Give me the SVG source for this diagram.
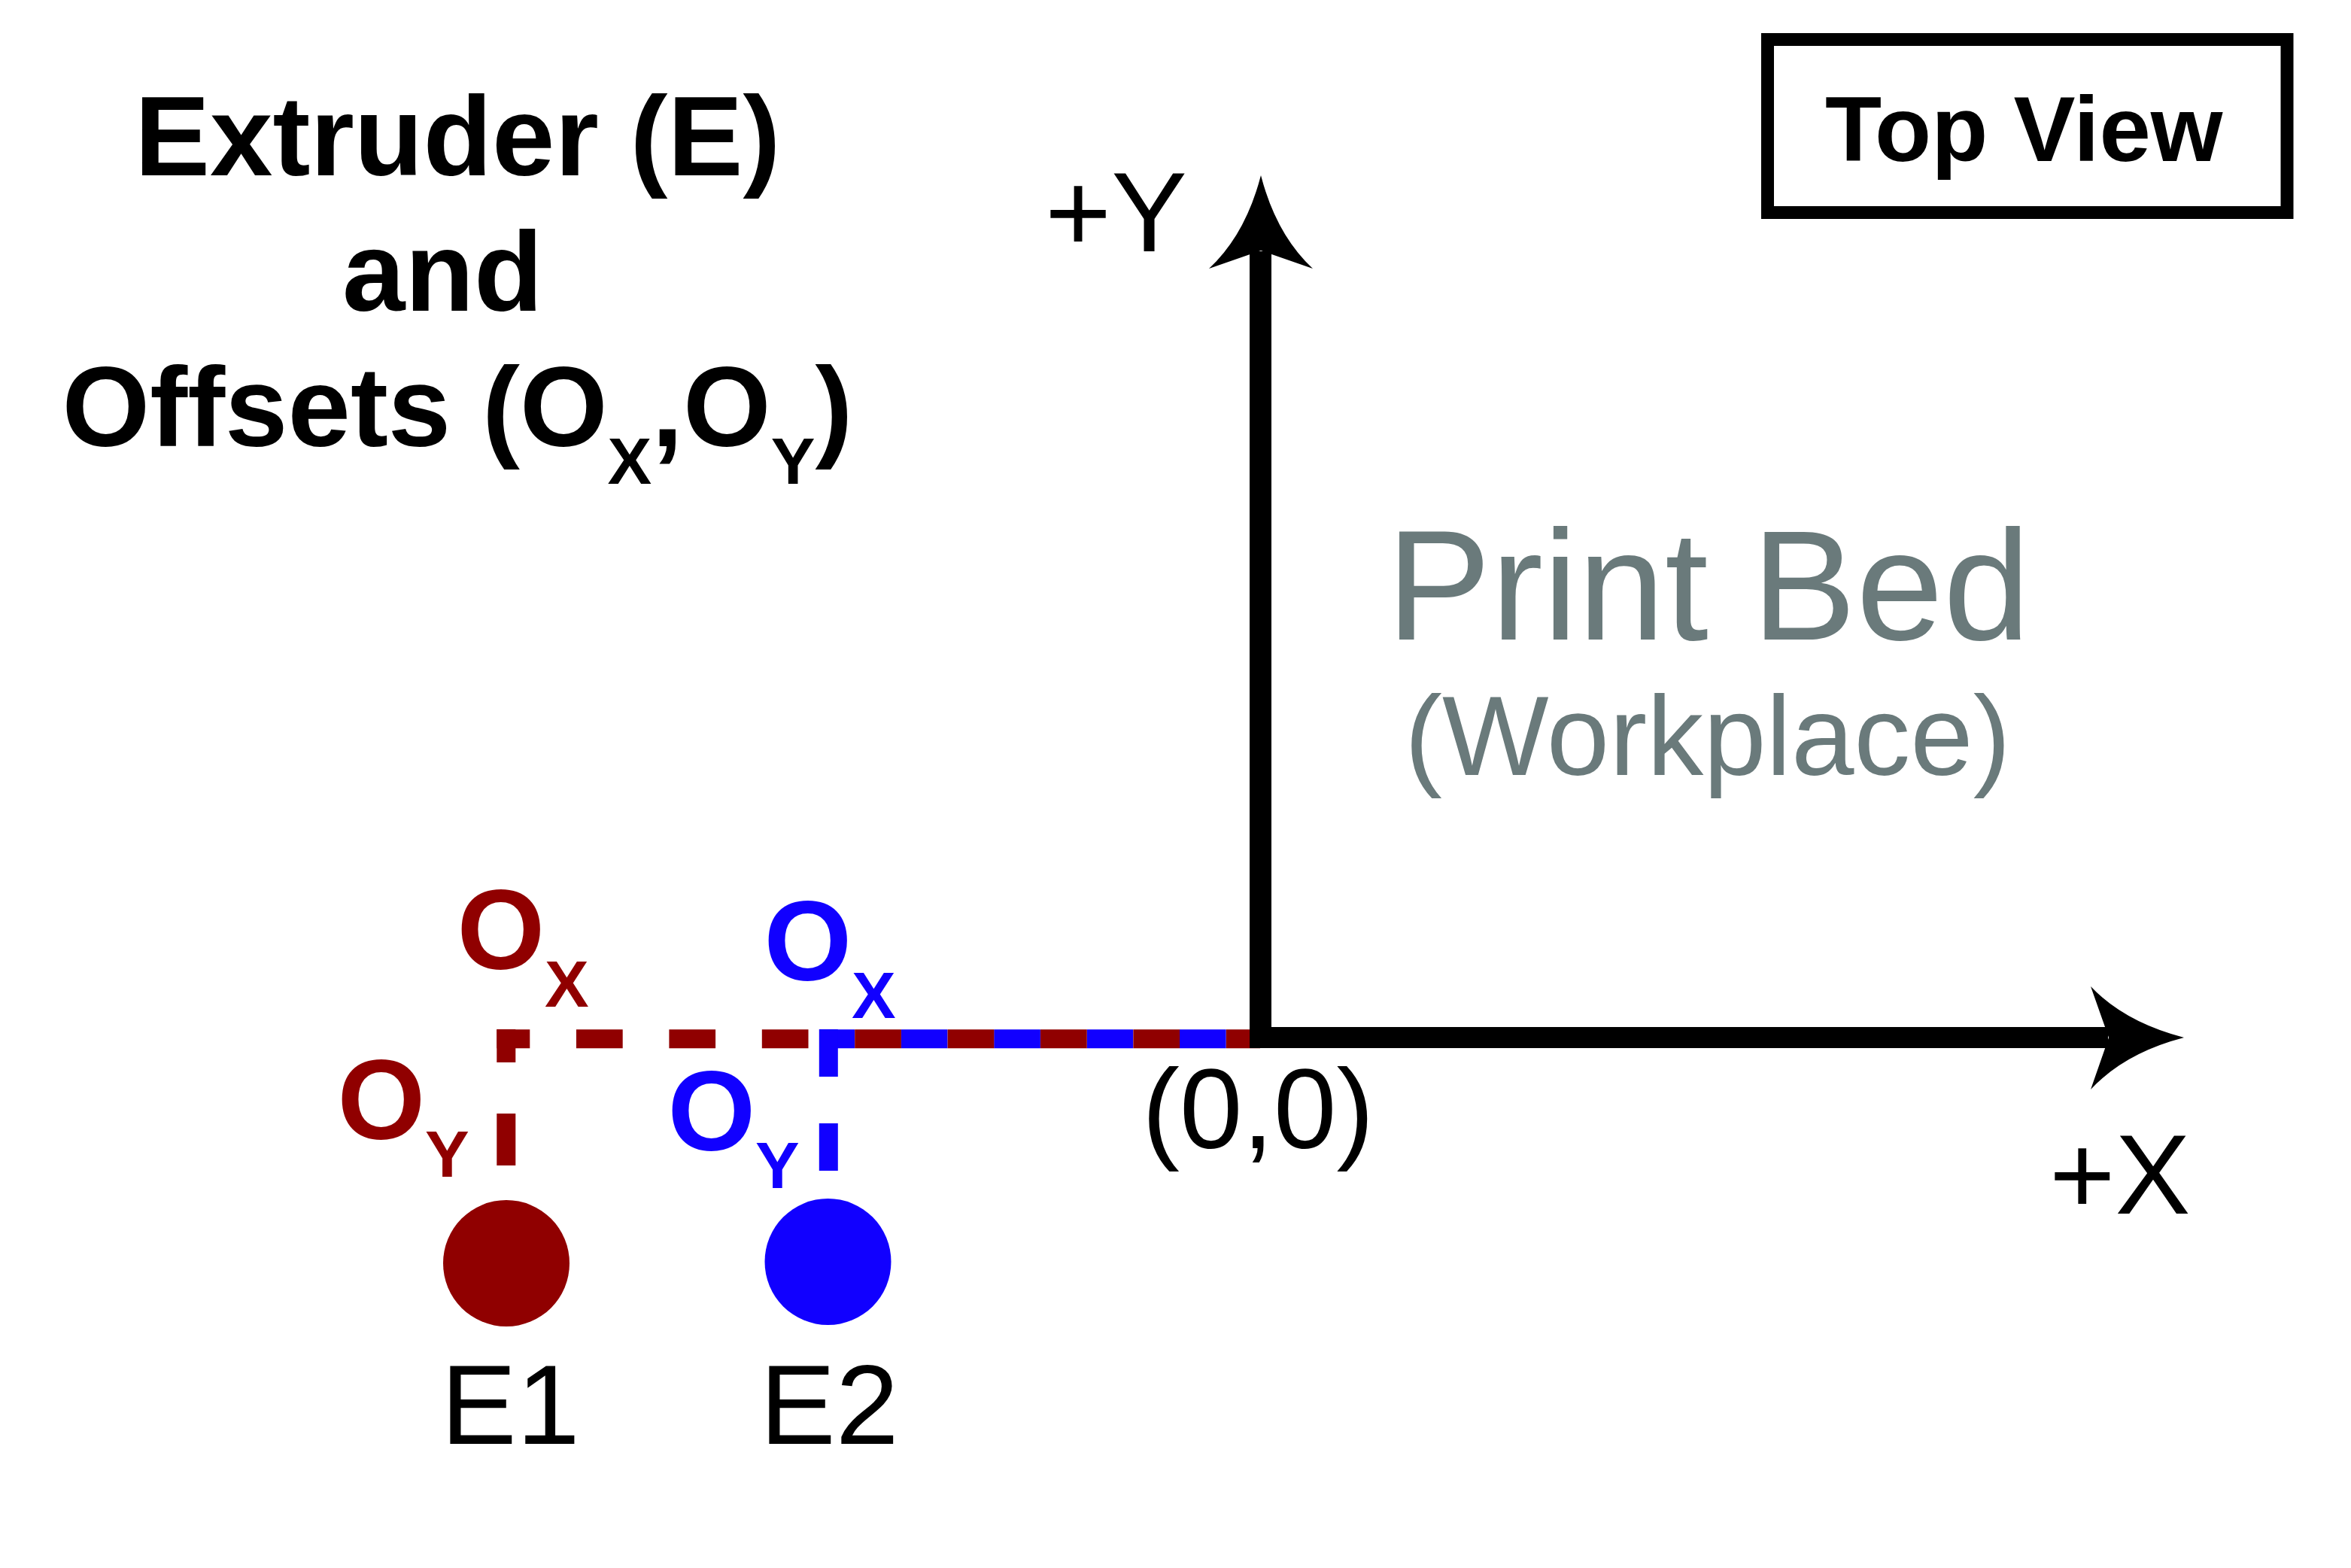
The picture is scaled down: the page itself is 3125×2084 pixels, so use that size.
<svg xmlns="http://www.w3.org/2000/svg" width="3125" height="2084" viewBox="0 0 3125 2084">
<style>
text { font-family: "Liberation Sans", Arial, sans-serif; fill: #000; }
.b { font-weight: bold; }
.sub { font-size: 88px; font-weight: bold; }
.red { fill: #900000; }
.blue { fill: #1100ff; }
.gray { fill: #6a7a7b; }
.dr { fill: none; stroke: #900000; stroke-width: 25; }
.db { fill: none; stroke: #1100ff; stroke-width: 25; }
.axis { fill: none; stroke: #000; }
.head { fill: #000; }
</style>
<rect width="3125" height="2084" fill="#fff"/>

<g id="title" class="b" font-size="150">
  <text x="179" y="233" class="b">Extruder (E)</text>
  <text x="455" y="413" class="b">and</text>
  <text x="82.5" y="593" class="b">Offsets (O<tspan class="sub" dy="50">X</tspan><tspan dy="-50" font-size="150">,O</tspan><tspan class="sub" dy="50">Y</tspan><tspan dy="-50" font-size="150">)</tspan></text>
</g>

<g id="top-view">
  <rect x="2349.5" y="52.5" width="690.5" height="230" fill="none" stroke="#000" stroke-width="17"/>
  <text x="2426" y="214" font-size="123" class="b">Top View</text>
</g>

<g id="connectors">
  <path class="db" d="M1089 1380.8H1675" stroke-dasharray="61.7 61.7" stroke-dashoffset="14.6"/>
  <path class="dr" d="M660.3 1380.8H1675" stroke-dasharray="61.7 61.7" stroke-dashoffset="17.7"/>
  <path class="db" d="M1101.3 1368V1680" stroke-dasharray="63 62"/>
  <path class="dr" d="M672.8 1368V1680" stroke-dasharray="69 68" stroke-dashoffset="25"/>
  <path id="y-axis" class="axis" stroke-width="29" d="M1675.5 334V1393"/>
  <path id="x-axis" class="axis" stroke-width="28" d="M1661 1379H2802"/>
  <path class="head" d="M1676 233Q1655.5 312 1607 357L1676 333L1745 357Q1696.5 312 1676 233Z"/>
  <path class="head" d="M2903 1379Q2824 1358.5 2779 1311L2803 1379L2779 1448Q2824 1399.5 2903 1379Z"/>
</g>

<g id="axis-labels">
  <text x="1389" y="334" font-size="151">+Y</text>
  <text x="2724" y="1613" font-size="150">+X</text>
  <text x="1518" y="1526" font-size="150">(0,0)</text>
</g>

<g id="print-bed">
  <text x="1843" y="850" font-size="208" class="gray">Print Bed</text>
  <text x="1867" y="1030" font-size="150" class="gray">(Workplace)</text>
</g>

<g id="e1">
  <circle cx="673" cy="1679" r="84" class="red"/>
  <text x="586" y="1919" font-size="151">E1</text>
</g>
<g id="e2">
  <circle cx="1100.5" cy="1677" r="84" class="blue"/>
  <text x="1010" y="1919" font-size="151">E2</text>
</g>

<g id="e1-offsets">
  <text x="607.4" y="1288" font-size="150" class="red b">O<tspan class="sub" dy="50">X</tspan></text>
  <text x="448.4" y="1514" font-size="150" class="red b">O<tspan class="sub" dy="50">Y</tspan></text>
</g>
<g id="e2-offsets">
  <text x="1015.4" y="1303" font-size="150" class="blue b">O<tspan class="sub" dy="50">X</tspan></text>
  <text x="887.4" y="1529.4" font-size="150" class="blue b">O<tspan class="sub" dy="50">Y</tspan></text>
</g>
</svg>
